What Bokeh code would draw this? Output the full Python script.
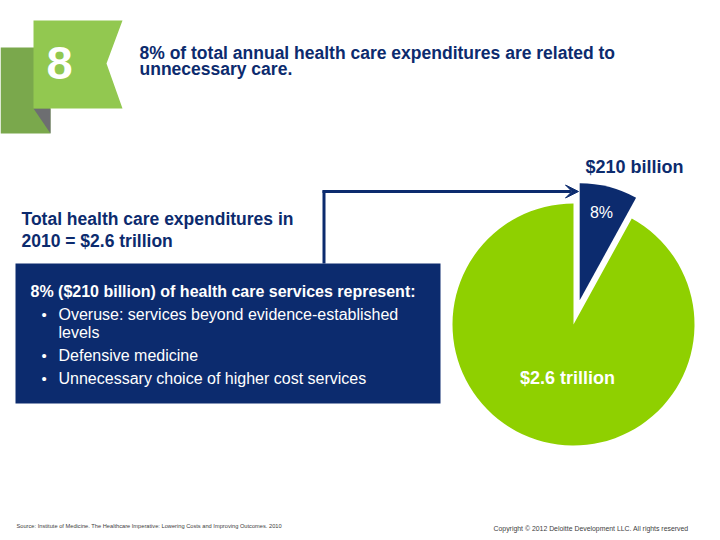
import numpy as np
from bokeh.plotting import figure
from bokeh.models import Range1d, Label, Arrow, VeeHead, ColumnDataSource
from bokeh.embed import file_html
from bokeh.resources import INLINE

# ---------------- data ----------------
categories = ["Unnecessary care", "Other health care expenditures"]
shares = [8, 92]                       # percent of total 2010 expenditures
slice_labels = ["8%", "$2.6 trillion"]
callout_label = "$210 billion"
title_lines = ["8% of total annual health care expenditures are related to",
               "unnecessary care."]
total_lines = ["Total health care expenditures in", "2010 = $2.6 trillion"]
box_heading = "8% ($210 billion) of health care services represent:"
box_bullets = [["Overuse: services beyond evidence-established", "levels"],
               ["Defensive medicine"],
               ["Unnecessary choice of higher cost services"]]
source_note = "Source: Institute of Medicine. The Healthcare Imperative: Lowering Costs and Improving Outcomes. 2010"
copyright_note = "Copyright \u00a9 2012 Deloitte Development LLC. All rights reserved"
badge_number = "8"

# ---------------- style ----------------
NAVY = "#0c2b6e"
PIE_GREEN = "#8fd000"
FLAG_GREEN = "#92c850"
DARK_GREEN = "#7aa84c"
GREY = "#6d6e71"
FONT = "Liberation Sans"
W, H = 720, 540


def Y(v):
    return H - v


def label(x, y, text, size, color, bold=False, align="left"):
    p.add_layout(Label(x=x, y=Y(y), text=text, text_color=color, text_font=FONT,
                       text_font_size=size, text_font_style="bold" if bold else "normal",
                       text_align=align, text_baseline="middle"))


p = figure(width=W, height=H, x_range=Range1d(0, W), y_range=Range1d(0, H),
           output_backend="svg", toolbar_location=None, min_border=0,
           x_axis_location=None, y_axis_location=None)
p.grid.visible = False
p.outline_line_color = None
p.background_fill_color = "white"
p.border_fill_color = "white"

# ---------------- badge ----------------
p.patch([0, 50, 50, 0], [Y(47), Y(47), Y(133), Y(133)], fill_color=DARK_GREEN, line_color=None)
p.patch([33, 50, 50], [Y(108), Y(108), Y(133)], fill_color=GREY, line_color=None)
p.patch([33, 122, 106, 122, 33], [Y(20), Y(20), Y(63), Y(108), Y(108)],
        fill_color=FLAG_GREEN, line_color=None)
label(59, 62, badge_number, "47px", "white", bold=True, align="center")

# ---------------- title ----------------
for i, line in enumerate(title_lines):
    label(139, 52.5 + 16 * i, line, "17.5px", NAVY, bold=True)

# ---------------- total text ----------------
for i, line in enumerate(total_lines):
    label(21, 218 + 22.5 * i, line, "17.5px", NAVY, bold=True)

# ---------------- navy box ----------------
p.quad(left=15, right=440, top=Y(263), bottom=Y(403), fill_color=NAVY, line_color=None)
label(30, 291, box_heading, "16px", "white", bold=True)
centers = [[313.5, 331.5], [354.5], [377.5]]
for bullet, cs in zip(box_bullets, centers):
    label(41, cs[0], "\u2022", "15px", "white")
    for line, c in zip(bullet, cs):
        label(58, c, line, "16px", "white")

# ---------------- pie ----------------
cx, cy = 573, Y(324)
explode = [25, 0]
fr = np.array(shares, dtype=float) / sum(shares)
cum = np.concatenate([[0], np.cumsum(fr)])
start = np.pi / 2 - 2 * np.pi * cum[:-1]
end = np.pi / 2 - 2 * np.pi * cum[1:]
mid = (start + end) / 2
xs = cx + np.array(explode) * np.cos(mid)
ys = cy + np.array(explode) * np.sin(mid)
radii = [117, 121]
src = ColumnDataSource(dict(category=categories, share=shares, x=xs, y=ys, r=radii,
                            start=start, end=end, color=[NAVY, PIE_GREEN]))
p.wedge(x="x", y="y", radius="r", start_angle="start", end_angle="end", direction="clock",
        fill_color="color", line_color=None, source=src)

label(601, 212, slice_labels[0], "16px", "white", align="center")
label(567, 377, slice_labels[1], "18px", "white", bold=True, align="center")
label(634, 166, callout_label, "18px", NAVY, bold=True, align="center")

# ---------------- connector arrow ----------------
p.segment(x0=[323.5], y0=[Y(263)], x1=[323.5], y1=[Y(190)], line_color=NAVY, line_width=3)
p.add_layout(Arrow(end=VeeHead(size=13, fill_color=NAVY, line_color=NAVY),
                   x_start=322, y_start=Y(191), x_end=578, y_end=Y(191),
                   line_color=NAVY, line_width=3))

# ---------------- footer ----------------
label(16, 525, source_note, "5.7px", "#404040")
label(493, 528, copyright_note, "6.9px", "#404040")

open("out.html", "w").write(file_html(p, INLINE))
